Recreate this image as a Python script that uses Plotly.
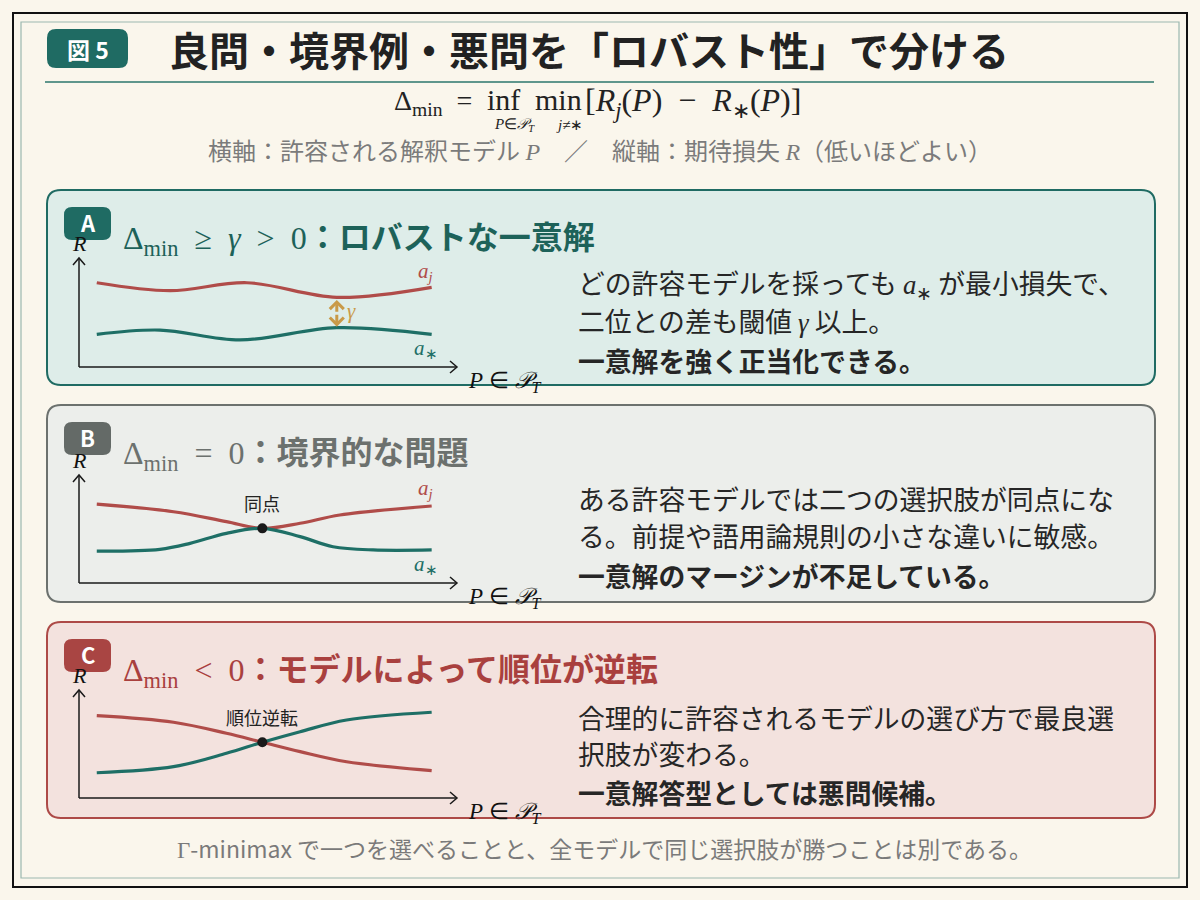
import plotly.graph_objects as go

SANS = "Noto Sans CJK JP, Noto Sans, sans-serif"
SERIF = "Liberation Serif, DejaVu Serif, serif"

# --- sketch readings: P on 0-100, expected loss R on 0-100 ---
# panel A : robust unique answer
p_a_j = [4.7, 24.1, 44.4, 68.2, 93.3]
r_a_j = [77.3, 70.0, 77.3, 63.9, 73.1]
p_a_star = [4.7, 21.4, 42.6, 68.2, 93.3]
r_a_star = [30.0, 33.9, 24.8, 36.1, 30.0]
gap_p = 68.2
gap_top = 61.5
gap_bottom = 37.0

# panel B : boundary case (tie)
p_b_j = [4.7, 25.0, 39.0, 48.5, 58.5, 69.0, 93.3]
r_b_j = [73.1, 66.0, 56.8, 50.6, 55.3, 63.0, 71.3]
p_b_star = [4.7, 21.4, 29.4, 39.0, 48.5, 58.5, 67.2, 77.8, 93.3]
r_b_star = [29.6, 31.2, 36.7, 46.0, 50.6, 42.9, 33.6, 30.6, 30.6]
tie_p = [48.5]
tie_r = [50.6]

# panel C : rank reversal
p_c = [4.7, 25.0, 39.0, 48.5, 58.5, 70.8, 93.3]
r_c_j = [76.2, 70.1, 59.9, 51.6, 42.9, 33.6, 25.3]
r_c_star = [23.4, 29.0, 41.4, 51.6, 61.4, 72.2, 79.4]
cross_p = [48.5]
cross_r = [51.6]

RED = "#b04c49"
TEAL = "#1e6f66"
GOLD = "#c99a48"
BG = "#faf6ec"
SP = "\u2002"  # en space, for math spacing


def m(s):
    return "<span style=\"font-family:'Liberation Serif'\">" + s + "</span>"


title_text = "良問・境界例・悪問を「ロバスト性」で分ける"
sub_text = ("横軸：許容される解釈モデル " + m("<i>P</i>") +
            "　／　縦軸：期待損失 " + m("<i>R</i>") + "（低いほどよい）")
foot_text = m("Γ") + "-minimax で一つを選べることと、全モデルで同じ選択肢が勝つことは別である。"

panels = [
    dict(key="A", top=190, bottom=385, fill="#deede9", edge="#1f6b63", badge="#1f6b63",
         tcol="#1d6259", axis_bottom=367, axis_top=258,
         title=m("Δ<sub>min</sub>" + SP + "≥" + SP + "<i>γ</i>" + SP + "&gt;" + SP + "0") + "<b>：ロバストな一意解</b>",
         lines=["どの許容モデルを採っても " + m("<i>a</i><sub>∗</sub>") + " が最小損失で、",
                "二位との差も閾値 " + m("<i>γ</i>") + " 以上。",
                "<b>一意解を強く正当化できる。</b>"],
         ly=[283, 320, 360]),
    dict(key="B", top=405, bottom=602, fill="#eceeeb", edge="#6c716e", badge="#646a67",
         tcol="#6c716e", axis_bottom=583, axis_top=475,
         title=m("Δ<sub>min</sub>" + SP + "=" + SP + "0") + "<b>：境界的な問題</b>",
         lines=["ある許容モデルでは二つの選択肢が同点にな",
                "る。前提や語用論規則の小さな違いに敏感。",
                "<b>一意解のマージンが不足している。</b>"],
         ly=[498, 535, 575]),
    dict(key="C", top=622, bottom=818, fill="#f3e2de", edge="#ad4a47", badge="#a94543",
         tcol="#a9403e", axis_bottom=798, axis_top=690,
         title=m("Δ<sub>min</sub>" + SP + "&lt;" + SP + "0") + "<b>：モデルによって順位が逆転</b>",
         lines=["合理的に許容されるモデルの選び方で最良選",
                "択肢が変わる。",
                "<b>一意解答型としては悪問候補。</b>"],
         ly=[717, 753, 792]),
]


def rrect(x0, y0, x1, y1, r):
    return (f"M{x0 + r},{y0} L{x1 - r},{y0} Q{x1},{y0} {x1},{y0 + r} "
            f"L{x1},{y1 - r} Q{x1},{y1} {x1 - r},{y1} L{x0 + r},{y1} "
            f"Q{x0},{y1} {x0},{y1 - r} L{x0},{y0 + r} Q{x0},{y0} {x0 + r},{y0} Z")


def txt(x, y, s, size, color, family=SANS, xanchor="left", yanchor="middle"):
    return dict(x=x, y=y, xref="x", yref="y", text=s, showarrow=False,
                font=dict(size=size, color=color, family=family),
                xanchor=xanchor, yanchor=yanchor)


fig = go.Figure()
shapes = []
annotations = []

# frame
shapes.append(dict(type="rect", x0=13, y0=13, x1=1187, y1=887, xref="x", yref="y",
                   line=dict(color="#111111", width=2), layer="below"))
shapes.append(dict(type="rect", x0=21, y0=22, x1=1179, y1=878, xref="x", yref="y",
                   line=dict(color="#9bb8b0", width=1.2), layer="below"))
# header
shapes.append(dict(type="path", path=rrect(47, 29, 128, 68, 9), xref="x", yref="y",
                   fillcolor="#1f6b63", line=dict(width=0), layer="below"))
shapes.append(dict(type="line", x0=45, y0=82, x1=1154, y1=82, xref="x", yref="y",
                   line=dict(color="#2b766c", width=1.5), layer="below"))
annotations.append(txt(87.5, 49, "<b>図 5</b>", 23, "white", xanchor="center"))
annotations.append(txt(167, 49, "<b>" + title_text + "</b>", 40, "#222222"))

# formula
annotations.append(txt(392, 102, m("Δ<sub>min</sub>" + SP + "="), 28, "#222222", family=SERIF))
annotations.append(txt(503, 99, m("inf"), 30, "#222222", family=SERIF, xanchor="center"))
annotations.append(txt(558, 99, m("min"), 30, "#222222", family=SERIF, xanchor="center"))
annotations.append(txt(583, 102, m("[<i>R<sub>j</sub></i>(<i>P</i>)" + SP + "−" + SP +
                                   "<i>R</i><sub>∗</sub>(<i>P</i>)]"), 32, "#222222", family=SERIF))
annotations.append(txt(514, 125, m("<i>P</i>∈<i>𝒫<sub>T</sub></i>"), 15, "#222222", family=SERIF, xanchor="center"))
annotations.append(txt(569, 125, m("<i>j</i>≠∗"), 15, "#222222", family=SERIF, xanchor="center"))
annotations.append(txt(600, 149, sub_text, 24, "#7b7b7b", xanchor="center"))

# footer
annotations.append(txt(604, 848, foot_text, 23, "#7a7a7a", xanchor="center"))

layout_axes = {}
traces_by_panel = {
    "A": [(p_a_j, r_a_j, RED), (p_a_star, r_a_star, TEAL)],
    "B": [(p_b_j, r_b_j, RED), (p_b_star, r_b_star, TEAL)],
    "C": [(p_c, r_c_j, RED), (p_c, r_c_star, TEAL)],
}

for i, pn in enumerate(panels):
    n = i + 2
    xa, ya = f"x{n}", f"y{n}"
    top, bottom = pn["top"], pn["bottom"]
    shapes.append(dict(type="path", path=rrect(47, top, 1155, bottom, 14), xref="x", yref="y",
                       fillcolor=pn["fill"], line=dict(color=pn["edge"], width=2), layer="below"))
    # badge
    shapes.append(dict(type="path", path=rrect(64, top + 17, 111, top + 50, 8), xref="x", yref="y",
                       fillcolor=pn["badge"], line=dict(width=0), layer="below"))
    annotations.append(txt(87.5, top + 32, "<b>" + pn["key"] + "</b>", 22, "white", xanchor="center"))
    annotations.append(txt(121, top + 46, pn["title"], 32, pn["tcol"]))
    for s, yy in zip(pn["lines"], pn["ly"]):
        annotations.append(txt(576, yy, s, 26.8, "#262626"))

    # mini axes
    ab, at = pn["axis_bottom"], pn["axis_top"]
    layout_axes["xaxis%d" % n] = dict(domain=[79 / 1200, 457 / 1200], range=[0, 100],
                                      visible=False, anchor=ya, fixedrange=True)
    layout_axes["yaxis%d" % n] = dict(domain=[1 - ab / 900, 1 - at / 900], range=[0, 100],
                                      visible=False, anchor=xa, fixedrange=True)
    axc = "#1a1a1a"
    shapes.append(dict(type="line", x0=79, y0=ab, x1=457, y1=ab, xref="x", yref="y",
                       line=dict(color=axc, width=1.5)))
    shapes.append(dict(type="line", x0=79, y0=ab, x1=79, y1=at, xref="x", yref="y",
                       line=dict(color=axc, width=1.5)))
    shapes.append(dict(type="path", path=f"M450,{ab - 6} L457,{ab} L450,{ab + 6}", xref="x", yref="y",
                       line=dict(color=axc, width=1.5)))
    shapes.append(dict(type="path", path=f"M73,{at + 7} L79,{at} L85,{at + 7}", xref="x", yref="y",
                       line=dict(color=axc, width=1.5)))
    annotations.append(txt(79, at - 15, m("<i>R</i>"), 22, "#111111", family=SERIF, xanchor="center"))
    annotations.append(txt(505, ab + 15, m("<i>P</i> ∈ <i>𝒫</i><sub><i>T</i></sub>"), 23, "#111111",
                           family=SERIF, xanchor="center"))

    for px, rv, col in traces_by_panel[pn["key"]]:
        fig.add_trace(go.Scatter(x=px, y=rv, xaxis=xa, yaxis=ya, mode="lines",
                                 line=dict(color=col, width=3.2, shape="spline", smoothing=1.0),
                                 hoverinfo="skip", showlegend=False))
    if pn["key"] in ("A", "B"):
        pj, rj, _ = traces_by_panel[pn["key"]][0]
        ps, rs, _ = traces_by_panel[pn["key"]][1]
        annotations.append(dict(x=pj[-1], y=rj[-1], xref=xa, yref=ya, showarrow=False,
                                text=m("<i>a<sub>j</sub></i>"), font=dict(size=21, color=RED, family=SERIF),
                                xshift=-6, yshift=17 if pn["key"] == "B" else 15))
        annotations.append(dict(x=ps[-1], y=rs[-1], xref=xa, yref=ya, showarrow=False,
                                text=m("<i>a</i><sub>∗</sub>"), font=dict(size=21, color=TEAL, family=SERIF),
                                xshift=-6, yshift=-15))

    if pn["key"] == "A":
        gap_mid = (gap_top + gap_bottom) / 2
        for tip in (gap_top, gap_bottom):
            annotations.append(dict(x=gap_p, y=tip, ax=gap_p, ay=gap_mid, xref=xa, yref=ya,
                                    axref=xa, ayref=ya, text="", showarrow=True, arrowhead=4,
                                    arrowsize=0.9, arrowwidth=3, arrowcolor=GOLD))
        annotations.append(dict(x=gap_p, y=gap_mid + 2, xref=xa, yref=ya, showarrow=False,
                                text=m("<i>γ</i>"), font=dict(size=21, color=GOLD, family=SERIF),
                                xanchor="left", xshift=8))
    if pn["key"] == "B":
        fig.add_trace(go.Scatter(x=tie_p, y=tie_r, xaxis=xa, yaxis=ya, mode="markers",
                                 marker=dict(color="#1a1a1a", size=10), hoverinfo="skip", showlegend=False))
        annotations.append(dict(x=tie_p[0], y=tie_r[0], xref=xa, yref=ya, showarrow=False, text="同点",
                                font=dict(size=18, color="#222222", family=SANS), yshift=25))
    if pn["key"] == "C":
        fig.add_trace(go.Scatter(x=cross_p, y=cross_r, xaxis=xa, yaxis=ya, mode="markers",
                                 marker=dict(color="#1a1a1a", size=10), hoverinfo="skip", showlegend=False))
        annotations.append(dict(x=cross_p[0], y=cross_r[0], xref=xa, yref=ya, showarrow=False, text="順位逆転",
                                font=dict(size=18, color="#222222", family=SANS), yshift=25))

fig.update_layout(
    width=1200, height=900, margin=dict(l=0, r=0, t=0, b=0),
    paper_bgcolor=BG, plot_bgcolor="rgba(0,0,0,0)",
    xaxis=dict(range=[0, 1200], domain=[0, 1], visible=False, fixedrange=True),
    yaxis=dict(range=[900, 0], domain=[0, 1], visible=False, fixedrange=True),
    shapes=shapes, annotations=annotations, showlegend=False,
    **layout_axes,
)

fig.write_html("out.html", config={"displayModeBar": False},
               post_script="document.body.style.margin='0';document.body.style.overflow='hidden';")
